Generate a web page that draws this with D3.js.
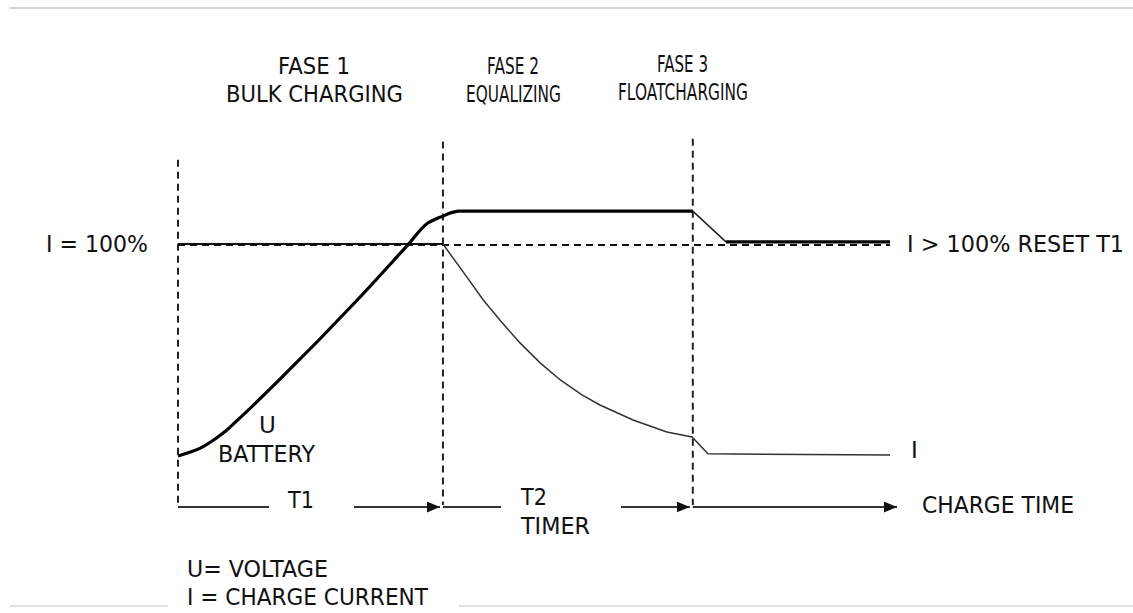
<!DOCTYPE html>
<html>
<head>
<meta charset="utf-8">
<script src="https://cdn.jsdelivr.net/npm/d3@7"></script>
<style>
    body { margin: 0; background: #fefefe; }
    text { font-family: "DejaVu Sans", sans-serif; font-size: 23px; fill: #111; }
</style>
</head>
<body>
<div id="chart"></div>
<script>
// charge time in hours, levels in % of nominal
const phaseStart = [0, 3.68, 7.15];
const phaseTopLevel = [132, 139, 140];
const axisEnd = 10;

const uTime = [0, 0.15, 0.31, 0.47, 0.64, 0.81, 1.375, 2.49, 3.19, 3.47, 3.58, 3.68, 3.78, 3.89, 7.15, 7.61, 9.89];
const uLevel = [19.4, 20.7, 22.4, 25.0, 28.4, 32.6, 47.5, 78.7, 99.6, 108.0, 109.5, 110.6, 111.8, 112.5, 112.5, 100.8, 100.8];

const iTime = [0, 3.68, 4.01, 4.24, 4.47, 4.75, 5.03, 5.31, 5.61, 5.86, 6.32, 6.79, 7.14, 7.36, 9.89];
const iLevel = [100, 100, 87.5, 78.7, 71.1, 62.4, 54.8, 48.3, 42.6, 38.8, 33.1, 28.5, 26.6, 20.2, 19.8];

const refLevel = 100;
const refEnd = 9.89;

const phaseNames = ["FASE 1", "FASE 2", "FASE 3"];
const phaseModes = ["BULK CHARGING", "EQUALIZING", "FLOATCHARGING"];
const timerNames = ["T1", "T2", "TIMER"];
const sideLabels = ["I = 100%", "I > 100% RESET T1", "U", "BATTERY", "I", "CHARGE TIME"];
const legendLines = ["U= VOLTAGE", "I = CHARGE CURRENT"];

const width = 1133, height = 613;

const svg = d3.select('#chart').append('svg')
    .attr('width', width)
    .attr('height', height);

const x = d3.scaleLinear().domain([0, axisEnd]).range([178, 898]);
const y = d3.scaleLinear().domain([0, 100]).range([507, 244]);

// arrow head for the time axis
svg.append('defs').append('marker')
    .attr('id', 'arrow')
    .attr('viewBox', '0 0 12 10')
    .attr('refX', 12).attr('refY', 5)
    .attr('markerWidth', 13).attr('markerHeight', 11)
    .attr('markerUnits', 'userSpaceOnUse')
    .attr('orient', 'auto')
    .append('path')
    .attr('d', 'M0,0L12,5L0,10Z')
    .attr('fill', '#111');

// frame lines of the original picture
svg.append('line').attr('x1', 10).attr('x2', width).attr('y1', 8).attr('y2', 8)
    .attr('stroke', '#c4c4c4').attr('stroke-width', 1.5);
svg.append('line').attr('x1', 10).attr('x2', width).attr('y1', 606).attr('y2', 606)
    .attr('stroke', '#d6d6d6').attr('stroke-width', 1.5);

// white box behind the legend cuts the bottom frame line
svg.append('rect').attr('x', 168).attr('y', 540).attr('width', 291).attr('height', 73).attr('fill', '#fff');

// time axis, split at every phase change
const axisParts = phaseStart.map((t, i) => [t, i < phaseStart.length - 1 ? phaseStart[i + 1] : axisEnd]);
svg.append('g').selectAll('line')
    .data(axisParts)
    .join('line')
    .attr('x1', d => x(d[0]))
    .attr('x2', (d, i) => x(d[1]) - (i < axisParts.length - 1 ? 3 : 1))
    .attr('y1', y(0)).attr('y2', y(0))
    .attr('stroke', '#333').attr('stroke-width', 2)
    .attr('marker-end', 'url(#arrow)');

// gaps in the axis for the timer labels
svg.append('rect').attr('x', 269).attr('y', 495).attr('width', 85).attr('height', 25).attr('fill', '#fff');
svg.append('rect').attr('x', 501).attr('y', 495).attr('width', 120).attr('height', 25).attr('fill', '#fff');

// vertical phase boundaries
svg.append('g').selectAll('line')
    .data(phaseStart)
    .join('line')
    .attr('x1', d => x(d)).attr('x2', d => x(d))
    .attr('y1', (d, i) => y(phaseTopLevel[i]))
    .attr('y2', y(0) - 2)
    .attr('stroke', '#222').attr('stroke-width', 2)
    .attr('stroke-dasharray', '7,5');

// 100 % reference
svg.append('line')
    .attr('x1', x(0)).attr('x2', x(refEnd))
    .attr('y1', y(refLevel) + 1).attr('y2', y(refLevel) + 1)
    .attr('stroke', '#111').attr('stroke-width', 2.2)
    .attr('stroke-dasharray', '7,5');

const line = d3.line().x(d => x(d[0])).y(d => y(d[1]));
const smooth = d3.line().x(d => x(d[0])).y(d => y(d[1])).curve(d3.curveMonotoneX);

// charge current
const iPts = iTime.map((t, k) => [t, iLevel[k]]);
svg.append('path')
    .attr('d', line(iPts))
    .attr('fill', 'none').attr('stroke', '#333').attr('stroke-width', 1.5);
svg.append('path')
    .attr('d', line(iPts.filter(d => d[0] <= phaseStart[1])))
    .attr('fill', 'none').attr('stroke', '#111').attr('stroke-width', 2);

// battery voltage: smooth rise, thin during the drop, thick elsewhere
const uPts = uTime.map((t, k) => [t, uLevel[k]]);
const uRise = uPts.filter(d => d[0] <= 3.89);
const uHold = uPts.filter(d => d[0] >= 3.89 && d[0] <= phaseStart[2]);
const uDrop = uPts.filter(d => d[0] >= phaseStart[2] && d[0] <= 7.61);
const uFloat = uPts.filter(d => d[0] >= 7.61);

svg.append('path')
    .attr('d', line(uDrop))
    .attr('fill', 'none').attr('stroke', '#222').attr('stroke-width', 1.5);
svg.append('path')
    .attr('d', smooth(uRise))
    .attr('fill', 'none').attr('stroke', '#000').attr('stroke-width', 3.2);
[uHold, uFloat].forEach(seg => {
    svg.append('path')
        .attr('d', line(seg))
        .attr('fill', 'none').attr('stroke', '#000').attr('stroke-width', 3.2)
        .attr('stroke-linejoin', 'round');
});

// texts: [text, left x, baseline y, width]
const texts = [
    [phaseNames[0], 278, 74, 72], [phaseModes[0], 226, 102, 177],
    [phaseNames[1], 487, 74, 52], [phaseModes[1], 466, 102, 95],
    [phaseNames[2], 657, 72, 51], [phaseModes[2], 618, 100, 130],
    [sideLabels[0], 46, 252, 102], [sideLabels[1], 907, 252, 217],
    [sideLabels[2], 259, 433, null], [sideLabels[3], 218, 462, 97],
    [sideLabels[4], 911, 458, null], [sideLabels[5], 922, 513, 152],
    [timerNames[0], 288, 508, 26], [timerNames[1], 521, 505, 26], [timerNames[2], 521, 534, 69],
    [legendLines[0], 187, 577, 141], [legendLines[1], 187, 605, 241]
];
svg.append('g').selectAll('text')
    .data(texts)
    .join('text')
    .attr('x', d => d[1]).attr('y', d => d[2])
    .attr('textLength', d => d[3])
    .attr('lengthAdjust', 'spacingAndGlyphs')
    .text(d => d[0]);
</script>
</body>
</html>
